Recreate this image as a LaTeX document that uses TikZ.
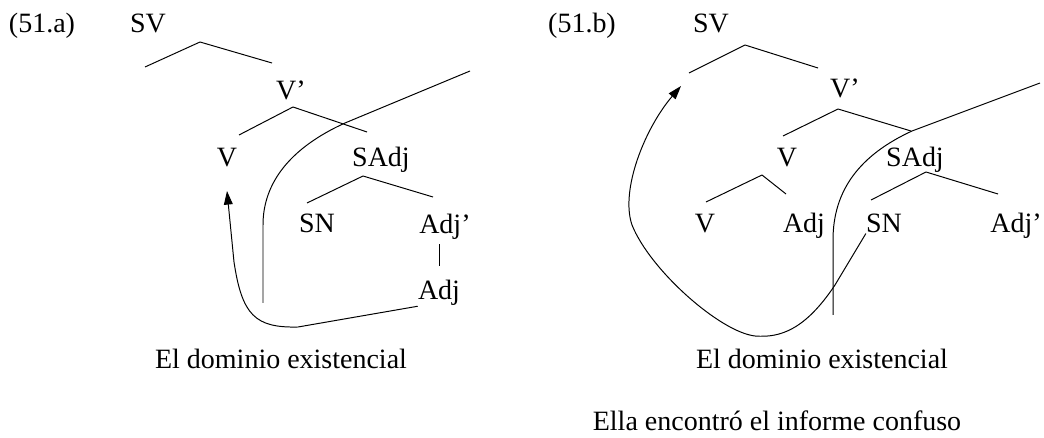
\documentclass[tikz,border=0pt]{standalone}
\usepackage{fontspec}
\setmainfont{Liberation Serif}
\usetikzlibrary{arrows.meta}

\begin{document}
\begin{tikzpicture}[x=0.025cm, y=-0.025cm,
    every node/.style={font=\fontsize{19.9}{24}\selectfont, inner sep=0pt, anchor=base},
    rama/.style={line width=0.7pt},
    mov/.style={line width=0.7pt, -{Triangle[length=0.34cm,width=0.22cm]}}]

    \useasboundingbox (0,0) rectangle (1044,438);

    % (51.a) 节点
    \node (ejA)   at (42,33)   {(51.a)};
    \node (svA)   at (148,33)  {SV};
    \node (vpA)   at (291,100) {V’};
    \node (vA)    at (227,167) {V};
    \node (saA)   at (381,167) {SAdj};
    \node (snA)   at (317,233) {SN};
    \node[anchor=base west] (adjpA) at (419,234) {Adj’};
    \node (adjA)  at (439,300) {Adj};
    \node (domA)  at (281,368) {El dominio existencial};

    % (51.a) 分支
    \coordinate (apSVa) at (200,42);
    \coordinate (apVa)  at (293,107);
    \coordinate (apSAa) at (363,176);
    \draw[rama] (apSVa) -- ++(-55,25) (apSVa) -- ++(72,21);
    \draw[rama] (apVa)  -- ++(-54,28) (apVa)  -- ++(74,25);
    \draw[rama] (apSAa) -- ++(-56,27) (apSAa) -- ++(70,21);
    \draw[rama, shorten <=3pt, shorten >=10pt] (adjpA.south -| adjA) -- (adjA.north);

    % 边界线与移位
    \draw[rama] (470,71) -- (345,123) .. controls (290,148) and (263,183) .. (263,225) -- (263,303);
    \coordinate (tipA) at (227,191);
    \draw[mov] (adjA.south west) -- (298,327) .. controls (255,328) and (242,315) .. (234,262) -- (tipA);

    % (51.b) 节点
    \node (ejB)   at (582,33)  {(51.b)};
    \node (svB)   at (711,33)  {SV};
    \node (vpB)   at (845,98)  {V’};
    \node (vB)    at (787,167) {V};
    \node (saB)   at (915,167) {SAdj};
    \node (v2B)   at (705,233) {V};
    \node (adjB)  at (804,233) {Adj};
    \node (snB)   at (884,233) {SN};
    \node (adjpB) at (1016,233) {Adj’};
    \node (domB)  at (822,368) {El dominio existencial};
    \node (oraB)  at (777,430) {Ella encontró el informe confuso};

    % (51.b) 分支
    \coordinate (apSVb) at (745,45);
    \coordinate (apVb)  at (838,109);
    \coordinate (apV2b) at (762,175);
    \coordinate (apSAb) at (926,172);
    \draw[rama] (apSVb) -- ++(-56,28) (apSVb) -- ++(73,23);
    \draw[rama] (apVb)  -- ++(-55,27) (apVb)  -- ++(73,22);
    \draw[rama] (apV2b) -- ++(-56,27) (apV2b) -- ++(24,19);
    \draw[rama] (apSAb) -- ++(-55,28) (apSAb) -- ++(72,22);

    % 边界线与移位
    \draw[rama] (1040,83) -- (912,131) .. controls (860,155) and (833,190) .. (833,240) -- (833,315);
    \coordinate (tipB) at (681,86);
    \draw[mov] (snB.south west) -- (835,285) .. controls (805,330) and (780,338) .. (755,336)
        .. controls (720,332) and (650,270) .. (632,225) .. controls (620,190) and (645,128) .. (tipB);

\end{tikzpicture}
\end{document}
